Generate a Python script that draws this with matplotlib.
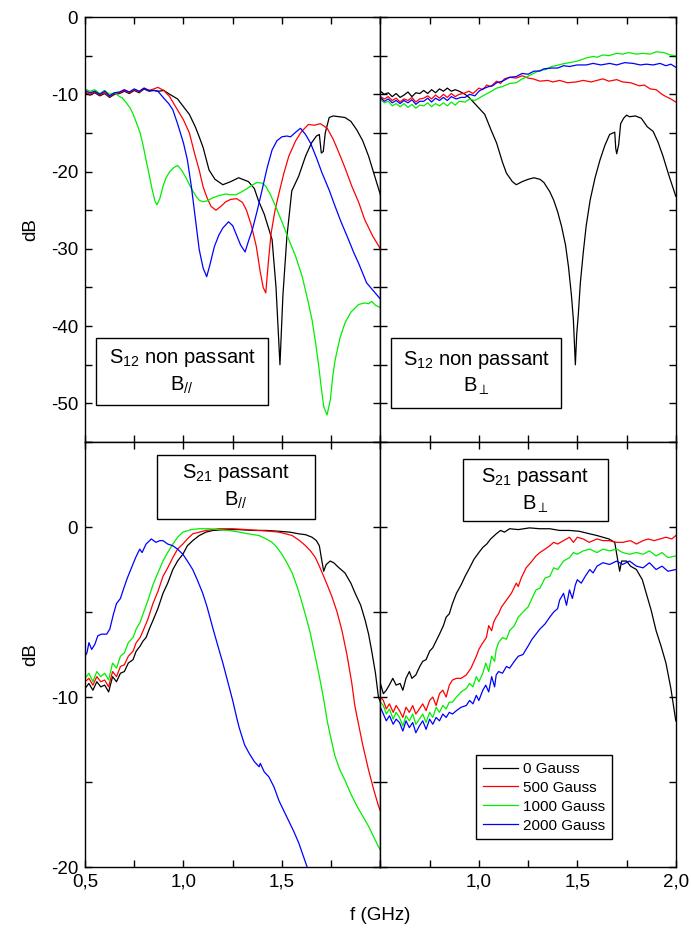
import matplotlib
matplotlib.use("Agg")
import matplotlib.pyplot as plt
from matplotlib.patches import Rectangle
from matplotlib.ticker import MultipleLocator

plt.rcParams['font.family'] = ['Liberation Sans', 'DejaVu Sans']
plt.rcParams['mathtext.fontset'] = 'custom'
plt.rcParams['mathtext.rm'] = 'Liberation Sans'
plt.rcParams['mathtext.it'] = 'Liberation Sans:italic'
plt.rcParams['axes.unicode_minus'] = False

# S12 non passant, B parallel
s12_par_0 = [(0.5,-9.8),(0.525,-10.1),(0.55,-9.8),(0.575,-10.2),(0.6,-9.9),(0.625,-10.4),(0.65,-10.0),(0.675,-9.9),(0.7,-9.6),(0.725,-9.9),(0.75,-9.5),(0.775,-9.8),(0.8,-9.3),(0.825,-9.6),(0.85,-9.5),(0.875,-9.6),(0.9,-9.5),(0.93,-10.0),(0.97,-10.6),(1.0,-11.6),(1.03,-12.6),(1.06,-14.2),(1.08,-15.5),(1.1,-16.9),(1.13,-19.8),(1.16,-21.0),(1.2,-21.7),(1.24,-21.3),(1.28,-20.8),(1.33,-21.3),(1.36,-22.2),(1.38,-23.7),(1.41,-25.5),(1.45,-28.8),(1.47,-35.0),(1.49,-45.0),(1.505,-36.0),(1.525,-28.5),(1.55,-22.5),(1.585,-20.6),(1.62,-18.0),(1.65,-16.3),(1.675,-15.4),(1.69,-15.2),(1.70,-17.6),(1.71,-17.4),(1.72,-15.0),(1.74,-13.0),(1.76,-12.8),(1.79,-12.9),(1.82,-13.0),(1.85,-13.5),(1.88,-14.6),(1.91,-16.0),(1.94,-18.0),(1.97,-20.5),(2.0,-23.0)]
s12_par_500 = [(0.5,-9.7),(0.525,-10.0),(0.55,-9.7),(0.575,-10.1),(0.6,-9.8),(0.625,-10.3),(0.65,-9.9),(0.675,-9.8),(0.7,-9.5),(0.725,-9.8),(0.75,-9.4),(0.775,-9.7),(0.8,-9.2),(0.825,-9.5),(0.85,-9.3),(0.87,-9.1),(0.9,-9.5),(0.93,-10.3),(0.96,-11.6),(1.0,-13.3),(1.03,-15.0),(1.06,-18.0),(1.08,-19.8),(1.1,-22.0),(1.12,-23.4),(1.14,-24.5),(1.165,-25.0),(1.19,-24.5),(1.215,-23.9),(1.24,-23.6),(1.27,-23.5),(1.3,-24.0),(1.32,-25.0),(1.345,-27.0),(1.37,-29.7),(1.39,-33.0),(1.405,-35.0),(1.418,-35.7),(1.43,-32.0),(1.445,-28.0),(1.465,-25.0),(1.485,-22.8),(1.51,-20.2),(1.535,-18.0),(1.57,-16.0),(1.6,-14.8),(1.635,-13.9),(1.665,-14.0),(1.695,-13.8),(1.73,-14.4),(1.76,-15.8),(1.79,-17.6),(1.82,-19.5),(1.855,-21.9),(1.89,-24.0),(1.92,-26.2),(1.96,-28.3),(2.0,-30.0)]
s12_par_1000 = [(0.5,-9.3),(0.525,-9.6),(0.55,-9.4),(0.575,-9.9),(0.6,-9.5),(0.625,-10.0),(0.65,-9.8),(0.67,-10.2),(0.69,-10.5),(0.71,-11.1),(0.73,-11.8),(0.745,-12.6),(0.76,-13.6),(0.78,-15.0),(0.795,-16.6),(0.81,-18.5),(0.825,-20.3),(0.84,-22.2),(0.855,-23.8),(0.865,-24.3),(0.88,-23.5),(0.895,-22.0),(0.91,-20.9),(0.93,-20.0),(0.95,-19.5),(0.97,-19.2),(0.99,-19.8),(1.013,-20.8),(1.04,-22.2),(1.064,-23.2),(1.08,-23.7),(1.098,-23.9),(1.12,-23.8),(1.148,-23.4),(1.18,-23.1),(1.215,-22.9),(1.24,-23.0),(1.266,-23.0),(1.29,-22.7),(1.317,-22.3),(1.345,-21.8),(1.375,-21.4),(1.4,-21.5),(1.418,-21.9),(1.44,-22.9),(1.468,-24.5),(1.5,-26.5),(1.535,-28.8),(1.57,-31.0),(1.603,-33.6),(1.63,-36.5),(1.653,-39.2),(1.67,-42.0),(1.687,-45.2),(1.70,-48.0),(1.712,-50.4),(1.729,-51.5),(1.746,-49.5),(1.758,-46.5),(1.77,-44.4),(1.795,-41.5),(1.82,-39.6),(1.85,-38.2),(1.889,-37.2),(1.92,-37.0),(1.94,-37.1),(1.956,-36.8),(1.975,-37.3),(2.0,-37.6)]
s12_par_2000 = [(0.5,-9.5),(0.525,-9.8),(0.55,-9.6),(0.575,-10.0),(0.6,-9.6),(0.625,-10.2),(0.65,-9.8),(0.675,-9.7),(0.7,-9.4),(0.725,-9.7),(0.75,-9.3),(0.775,-9.6),(0.8,-9.2),(0.825,-9.5),(0.85,-9.5),(0.87,-9.6),(0.9,-10.5),(0.925,-11.2),(0.946,-12.0),(0.97,-13.8),(1.0,-16.3),(1.02,-18.5),(1.04,-21.9),(1.06,-26.0),(1.08,-30.1),(1.1,-32.5),(1.118,-33.6),(1.135,-32.0),(1.157,-29.7),(1.18,-28.2),(1.2,-27.3),(1.229,-26.5),(1.25,-27.0),(1.266,-28.0),(1.29,-29.5),(1.313,-30.4),(1.33,-29.0),(1.35,-27.5),(1.375,-25.0),(1.4,-22.3),(1.425,-19.5),(1.45,-17.2),(1.475,-16.0),(1.5,-15.5),(1.525,-15.4),(1.544,-15.5),(1.57,-14.9),(1.594,-14.4),(1.62,-15.2),(1.645,-16.3),(1.675,-18.2),(1.704,-20.2),(1.74,-22.4),(1.77,-24.5),(1.8,-26.5),(1.838,-28.8),(1.865,-30.5),(1.89,-31.9),(1.93,-34.4),(1.96,-35.3),(2.0,-36.5)]

# S12 non passant, B perpendicular
s12_perp_0 = [(0.5,-9.6),(0.52,-10.0),(0.54,-9.8),(0.56,-10.3),(0.58,-9.9),(0.6,-10.4),(0.62,-10.1),(0.64,-9.7),(0.66,-10.3),(0.68,-9.8),(0.7,-9.9),(0.72,-9.5),(0.74,-9.9),(0.76,-9.4),(0.78,-9.8),(0.8,-9.3),(0.82,-9.6),(0.84,-9.2),(0.86,-9.6),(0.88,-9.4),(0.9,-9.6),(0.93,-10.0),(0.95,-10.4),(0.99,-11.5),(1.03,-12.6),(1.06,-14.5),(1.09,-16.3),(1.12,-18.8),(1.14,-20.2),(1.17,-21.3),(1.19,-21.7),(1.22,-21.3),(1.25,-21.0),(1.28,-20.8),(1.31,-21.0),(1.33,-21.4),(1.36,-22.6),(1.38,-23.7),(1.40,-25.2),(1.42,-27.1),(1.44,-29.5),(1.455,-32.3),(1.47,-36.0),(1.48,-39.2),(1.49,-45.0),(1.497,-41.0),(1.505,-38.5),(1.515,-34.5),(1.53,-30.5),(1.545,-27.0),(1.565,-23.7),(1.59,-20.8),(1.615,-18.5),(1.64,-16.6),(1.664,-15.2),(1.69,-14.9),(1.695,-17.0),(1.70,-17.7),(1.71,-16.5),(1.72,-13.8),(1.735,-13.1),(1.75,-12.7),(1.765,-12.9),(1.795,-12.8),(1.825,-13.1),(1.855,-14.2),(1.885,-14.8),(1.91,-16.2),(1.935,-18.0),(1.965,-20.5),(2.0,-23.2)]
s12_perp_500 = [(0.5,-10.3),(0.52,-10.6),(0.54,-10.3),(0.56,-10.8),(0.58,-10.5),(0.6,-11.0),(0.62,-10.6),(0.64,-10.8),(0.66,-10.4),(0.68,-11.0),(0.7,-10.6),(0.72,-10.5),(0.74,-10.2),(0.76,-10.6),(0.78,-10.1),(0.8,-10.5),(0.82,-10.0),(0.84,-10.4),(0.86,-9.9),(0.88,-10.3),(0.9,-10.0),(0.92,-9.9),(0.95,-9.6),(0.97,-9.9),(1.0,-9.2),(1.02,-9.4),(1.04,-8.8),(1.06,-9.0),(1.09,-8.3),(1.11,-8.6),(1.13,-8.0),(1.156,-7.8),(1.19,-7.9),(1.22,-7.6),(1.25,-7.9),(1.275,-8.0),(1.31,-8.3),(1.35,-8.2),(1.375,-8.4),(1.41,-8.2),(1.45,-8.5),(1.495,-8.4),(1.53,-8.2),(1.57,-8.4),(1.6,-8.2),(1.63,-8.0),(1.66,-8.3),(1.7,-8.1),(1.73,-8.4),(1.77,-8.5),(1.815,-8.9),(1.84,-8.8),(1.87,-9.3),(1.9,-9.4),(1.93,-10.0),(1.95,-10.3),(1.975,-10.6),(2.0,-11.0)]
s12_perp_1000 = [(0.5,-10.6),(0.52,-11.1),(0.54,-10.9),(0.56,-11.5),(0.58,-11.2),(0.6,-11.6),(0.62,-11.2),(0.64,-11.7),(0.66,-11.3),(0.68,-11.8),(0.7,-11.4),(0.72,-11.5),(0.74,-11.1),(0.76,-11.6),(0.78,-11.2),(0.8,-11.5),(0.82,-11.1),(0.84,-11.5),(0.86,-11.0),(0.88,-11.4),(0.9,-10.9),(0.93,-11.0),(0.953,-10.6),(0.98,-10.8),(1.0,-10.5),(1.02,-10.2),(1.05,-9.8),(1.07,-9.5),(1.09,-9.2),(1.12,-9.0),(1.156,-8.6),(1.19,-8.5),(1.22,-8.0),(1.24,-7.8),(1.27,-7.4),(1.307,-6.9),(1.34,-6.8),(1.37,-6.4),(1.39,-6.3),(1.42,-6.1),(1.46,-5.9),(1.5,-5.7),(1.545,-5.3),(1.58,-5.1),(1.6,-5.2),(1.63,-4.9),(1.66,-5.0),(1.7,-4.7),(1.73,-4.8),(1.76,-4.6),(1.8,-4.8),(1.834,-4.7),(1.87,-4.8),(1.9,-4.5),(1.94,-4.6),(1.97,-4.9),(2.0,-5.0)]
s12_perp_2000 = [(0.5,-10.4),(0.52,-10.9),(0.54,-10.6),(0.56,-11.1),(0.58,-10.8),(0.6,-11.2),(0.62,-10.8),(0.64,-11.1),(0.66,-10.7),(0.68,-11.3),(0.7,-10.9),(0.72,-10.9),(0.74,-10.5),(0.76,-11.0),(0.78,-10.5),(0.8,-10.8),(0.82,-10.4),(0.84,-10.8),(0.86,-10.3),(0.885,-10.6),(0.91,-10.4),(0.93,-10.4),(0.953,-10.0),(0.98,-10.2),(1.0,-9.6),(1.02,-9.3),(1.05,-9.0),(1.07,-8.9),(1.09,-8.5),(1.12,-8.3),(1.156,-7.8),(1.19,-7.7),(1.22,-7.3),(1.25,-7.4),(1.28,-7.0),(1.31,-7.0),(1.33,-6.7),(1.37,-6.6),(1.4,-6.6),(1.43,-6.3),(1.46,-6.4),(1.5,-6.2),(1.545,-6.2),(1.58,-6.0),(1.62,-6.2),(1.664,-6.0),(1.7,-6.2),(1.74,-5.9),(1.783,-6.0),(1.82,-6.2),(1.85,-6.1),(1.885,-6.2),(1.92,-6.0),(1.95,-6.3),(1.975,-6.1),(2.0,-6.5)]

# S21 passant, B parallel
s21_par_0 = [(0.5,-9.5),(0.52,-9.2),(0.54,-9.6),(0.56,-9.1),(0.58,-9.4),(0.6,-9.3),(0.62,-9.7),(0.64,-8.8),(0.66,-9.1),(0.68,-8.6),(0.7,-8.5),(0.72,-8.0),(0.744,-7.8),(0.76,-7.3),(0.78,-7.0),(0.795,-6.7),(0.81,-6.5),(0.83,-5.9),(0.845,-5.5),(0.87,-4.8),(0.896,-3.9),(0.92,-3.3),(0.946,-2.5),(0.97,-2.0),(0.997,-1.6),(1.02,-1.1),(1.047,-0.8),(1.08,-0.5),(1.114,-0.3),(1.15,-0.2),(1.215,-0.15),(1.28,-0.15),(1.35,-0.2),(1.42,-0.2),(1.485,-0.25),(1.54,-0.3),(1.586,-0.4),(1.62,-0.45),(1.653,-0.6),(1.675,-0.8),(1.69,-1.1),(1.70,-1.8),(1.712,-2.6),(1.725,-2.2),(1.745,-2.0),(1.763,-2.1),(1.79,-2.4),(1.82,-2.7),(1.85,-3.3),(1.872,-3.9),(1.9,-4.6),(1.923,-5.5),(1.94,-6.3),(1.956,-7.3),(1.975,-8.6),(1.99,-10.0),(2.0,-10.3)]
s21_par_500 = [(0.5,-9.1),(0.52,-8.9),(0.54,-9.3),(0.56,-8.8),(0.58,-9.1),(0.6,-9.0),(0.62,-9.4),(0.64,-8.5),(0.66,-8.8),(0.68,-8.2),(0.7,-8.1),(0.72,-7.6),(0.744,-7.3),(0.76,-6.8),(0.78,-6.5),(0.795,-6.1),(0.82,-5.4),(0.845,-4.5),(0.87,-3.8),(0.896,-2.9),(0.92,-2.4),(0.946,-1.8),(0.97,-1.3),(0.997,-1.0),(1.02,-0.7),(1.047,-0.4),(1.08,-0.3),(1.114,-0.2),(1.18,-0.1),(1.25,-0.1),(1.32,-0.15),(1.384,-0.2),(1.44,-0.25),(1.485,-0.3),(1.52,-0.4),(1.552,-0.5),(1.59,-0.8),(1.62,-1.1),(1.645,-1.4),(1.67,-1.8),(1.69,-2.3),(1.712,-2.9),(1.73,-3.4),(1.754,-4.1),(1.78,-5.0),(1.805,-6.1),(1.83,-7.5),(1.855,-9.2),(1.87,-10.5),(1.889,-11.6),(1.91,-12.8),(1.94,-14.3),(1.965,-15.4),(1.99,-16.4),(2.0,-16.7)]
s21_par_1000 = [(0.5,-8.9),(0.52,-8.6),(0.54,-9.1),(0.56,-8.5),(0.58,-8.8),(0.6,-8.6),(0.62,-9.0),(0.64,-8.0),(0.66,-8.3),(0.68,-7.6),(0.7,-7.4),(0.72,-6.8),(0.744,-6.5),(0.76,-6.0),(0.78,-5.6),(0.795,-5.1),(0.82,-4.3),(0.845,-3.4),(0.87,-2.7),(0.896,-2.0),(0.92,-1.5),(0.946,-1.0),(0.97,-0.6),(0.997,-0.3),(1.04,-0.15),(1.08,-0.1),(1.13,-0.1),(1.18,-0.15),(1.23,-0.2),(1.283,-0.3),(1.33,-0.4),(1.384,-0.5),(1.42,-0.7),(1.45,-0.9),(1.475,-1.2),(1.5,-1.6),(1.525,-2.1),(1.552,-2.7),(1.58,-3.6),(1.603,-4.5),(1.625,-5.4),(1.645,-6.3),(1.665,-7.4),(1.687,-8.6),(1.71,-10.0),(1.73,-11.4),(1.75,-12.5),(1.77,-13.5),(1.795,-14.3),(1.82,-14.9),(1.85,-15.7),(1.88,-16.4),(1.91,-17.0),(1.94,-17.6),(1.965,-18.2),(1.99,-18.8),(2.0,-19.0)]
s21_par_2000 = [(0.5,-7.6),(0.51,-7.4),(0.52,-6.8),(0.534,-7.2),(0.55,-6.9),(0.565,-6.4),(0.584,-6.3),(0.61,-6.3),(0.626,-6.0),(0.645,-5.1),(0.66,-4.5),(0.68,-4.2),(0.694,-3.7),(0.715,-3.0),(0.736,-2.4),(0.757,-1.8),(0.778,-1.3),(0.79,-1.5),(0.81,-1.0),(0.837,-0.7),(0.86,-0.9),(0.88,-0.8),(0.896,-0.8),(0.92,-1.0),(0.946,-1.1),(0.97,-1.3),(0.997,-1.6),(1.02,-2.0),(1.047,-2.5),(1.07,-3.1),(1.098,-3.9),(1.12,-4.7),(1.148,-5.9),(1.175,-7.0),(1.2,-8.0),(1.225,-9.1),(1.25,-10.2),(1.27,-11.2),(1.283,-11.8),(1.31,-12.8),(1.333,-13.3),(1.36,-13.8),(1.384,-14.1),(1.39,-13.9),(1.41,-14.4),(1.434,-14.7),(1.46,-15.3),(1.485,-16.1),(1.51,-16.7),(1.535,-17.3),(1.56,-17.9),(1.586,-18.6),(1.61,-19.4),(1.628,-20.0),(1.64,-20.5)]

# S21 passant, B perpendicular
s21_perp_0 = [(0.5,-9.2),(0.515,-9.8),(0.53,-9.6),(0.545,-9.3),(0.563,-8.9),(0.58,-9.3),(0.6,-9.2),(0.614,-9.6),(0.63,-8.9),(0.647,-8.5),(0.66,-8.9),(0.68,-8.7),(0.7,-8.2),(0.715,-7.9),(0.732,-7.8),(0.75,-7.3),(0.766,-7.1),(0.783,-6.7),(0.8,-6.3),(0.82,-5.8),(0.834,-5.3),(0.85,-5.1),(0.866,-4.5),(0.886,-3.9),(0.91,-3.4),(0.93,-2.9),(0.953,-2.4),(0.975,-1.9),(1.0,-1.5),(1.02,-1.2),(1.04,-1.0),(1.06,-0.7),(1.088,-0.4),(1.11,-0.2),(1.13,-0.3),(1.156,-0.1),(1.2,-0.15),(1.257,-0.05),(1.31,-0.1),(1.36,-0.1),(1.41,-0.2),(1.46,-0.2),(1.51,-0.25),(1.563,-0.4),(1.6,-0.5),(1.63,-0.6),(1.66,-0.7),(1.69,-0.9),(1.70,-1.6),(1.715,-2.6),(1.725,-2.0),(1.75,-2.0),(1.77,-2.3),(1.8,-2.5),(1.83,-3.1),(1.85,-3.9),(1.875,-4.9),(1.9,-6.1),(1.925,-7.0),(1.95,-8.0),(1.975,-9.5),(2.0,-11.4)]
s21_perp_500 = [(0.5,-10.0),(0.515,-10.2),(0.53,-10.7),(0.546,-10.4),(0.565,-10.9),(0.58,-10.5),(0.597,-10.8),(0.614,-11.2),(0.63,-10.6),(0.647,-10.9),(0.664,-10.5),(0.68,-11.0),(0.698,-10.7),(0.715,-10.4),(0.732,-10.8),(0.75,-10.2),(0.766,-10.0),(0.783,-10.5),(0.8,-9.8),(0.817,-9.6),(0.834,-10.0),(0.85,-9.3),(0.866,-9.0),(0.886,-8.9),(0.91,-8.9),(0.936,-8.7),(0.96,-8.3),(0.987,-7.6),(1.0,-7.2),(1.015,-6.9),(1.038,-6.5),(1.05,-5.8),(1.065,-6.1),(1.075,-5.6),(1.088,-5.3),(1.1,-5.1),(1.115,-4.7),(1.14,-4.3),(1.165,-3.9),(1.19,-3.3),(1.2,-3.5),(1.215,-3.0),(1.24,-2.4),(1.255,-2.2),(1.27,-2.0),(1.29,-1.7),(1.31,-1.5),(1.336,-1.3),(1.36,-1.1),(1.38,-0.9),(1.4,-1.0),(1.43,-0.8),(1.46,-0.6),(1.48,-0.9),(1.5,-0.6),(1.53,-0.7),(1.56,-0.9),(1.6,-0.7),(1.63,-0.8),(1.66,-0.8),(1.7,-0.9),(1.73,-0.9),(1.77,-0.8),(1.8,-1.0),(1.834,-0.8),(1.86,-0.7),(1.89,-0.8),(1.92,-0.7),(1.95,-0.6),(1.98,-0.7),(2.0,-0.5)]
s21_perp_1000 = [(0.5,-10.3),(0.515,-10.5),(0.53,-11.0),(0.546,-10.7),(0.565,-11.3),(0.58,-10.9),(0.597,-11.2),(0.614,-11.7),(0.63,-11.1),(0.647,-11.4),(0.664,-11.0),(0.68,-11.6),(0.698,-11.3),(0.715,-11.0),(0.732,-11.5),(0.75,-10.9),(0.766,-11.2),(0.783,-10.6),(0.8,-10.9),(0.817,-10.5),(0.834,-10.7),(0.85,-10.3),(0.866,-10.3),(0.886,-10.0),(0.91,-9.7),(0.936,-9.5),(0.953,-9.2),(0.97,-9.4),(0.987,-8.8),(1.0,-9.1),(1.02,-8.6),(1.035,-8.0),(1.05,-8.5),(1.065,-7.6),(1.08,-7.9),(1.088,-7.2),(1.1,-6.8),(1.12,-6.5),(1.14,-6.6),(1.156,-6.1),(1.18,-5.8),(1.2,-5.3),(1.224,-5.0),(1.25,-4.7),(1.27,-4.2),(1.29,-3.7),(1.31,-3.6),(1.336,-3.0),(1.36,-2.9),(1.38,-2.4),(1.4,-2.5),(1.43,-2.0),(1.46,-1.8),(1.48,-1.5),(1.5,-1.6),(1.53,-1.4),(1.563,-1.3),(1.6,-1.5),(1.63,-1.3),(1.664,-1.4),(1.7,-1.3),(1.73,-1.5),(1.765,-1.6),(1.8,-1.5),(1.834,-1.6),(1.866,-1.4),(1.9,-1.7),(1.93,-1.5),(1.96,-1.8),(2.0,-1.7)]
s21_perp_2000 = [(0.5,-10.6),(0.515,-11.0),(0.53,-11.4),(0.546,-11.1),(0.565,-11.6),(0.58,-11.3),(0.597,-11.5),(0.614,-12.0),(0.63,-11.4),(0.647,-11.8),(0.664,-11.5),(0.68,-12.1),(0.698,-11.7),(0.715,-11.4),(0.732,-11.9),(0.75,-11.3),(0.766,-11.6),(0.783,-11.2),(0.8,-11.4),(0.817,-11.0),(0.834,-11.2),(0.85,-10.9),(0.866,-11.0),(0.886,-10.8),(0.91,-10.6),(0.936,-10.5),(0.953,-10.2),(0.97,-10.4),(0.987,-9.9),(1.0,-10.2),(1.02,-9.6),(1.035,-9.3),(1.05,-9.7),(1.065,-8.8),(1.08,-9.4),(1.088,-8.7),(1.1,-8.5),(1.12,-8.6),(1.14,-8.2),(1.156,-8.3),(1.18,-7.9),(1.2,-7.6),(1.224,-7.5),(1.25,-7.0),(1.27,-6.6),(1.29,-6.3),(1.31,-6.0),(1.336,-5.7),(1.36,-5.3),(1.38,-5.0),(1.4,-4.8),(1.41,-4.3),(1.43,-3.9),(1.445,-4.6),(1.46,-3.7),(1.475,-4.2),(1.49,-3.4),(1.5,-3.1),(1.52,-3.3),(1.54,-2.9),(1.563,-2.5),(1.58,-2.7),(1.6,-2.3),(1.63,-2.1),(1.664,-2.2),(1.7,-2.0),(1.73,-2.2),(1.765,-2.0),(1.8,-2.3),(1.834,-2.4),(1.866,-2.1),(1.9,-2.5),(1.93,-2.3),(1.96,-2.6),(2.0,-2.5)]

gauss_labels = ['0 Gauss', '500 Gauss', '1000 Gauss', '2000 Gauss']
colors = ['black', '#ff0000', '#00ee00', '#0000ff']
panel_titles = ['S$_{12}$ non passant\nB$_{//}$', 'S$_{12}$ non passant\nB$_{\\perp}$',
                'S$_{21}$ passant\nB$_{//}$', 'S$_{21}$ passant\nB$_{\\perp}$']
panels = [[s12_par_0, s12_par_500, s12_par_1000, s12_par_2000],
          [s12_perp_0, s12_perp_500, s12_perp_1000, s12_perp_2000],
          [s21_par_0, s21_par_500, s21_par_1000, s21_par_2000],
          [s21_perp_0, s21_perp_500, s21_perp_1000, s21_perp_2000]]
# label boxes in axes fractions: x0, y0, width, height
title_boxes = [(0.037, 0.087, 0.584, 0.158), (0.037, 0.080, 0.576, 0.165),
               (0.243, 0.819, 0.537, 0.151), (0.278, 0.814, 0.492, 0.146)]

fig = plt.figure(figsize=(6.91, 9.31), dpi=100)
gs = fig.add_gridspec(2, 2, left=0.123, right=0.978, top=0.9817, bottom=0.0687,
                      hspace=0, wspace=0)
axs = [fig.add_subplot(gs[i // 2, i % 2]) for i in range(4)]

for k, ax in enumerate(axs):
    for curve, c, lab in zip(panels[k], colors, gauss_labels):
        f = [p[0] for p in curve]
        db = [p[1] for p in curve]
        ax.plot(f, db, color=c, lw=0.9, label=lab)
    ax.set_xlim(0.5, 2.0)
    if k < 2:
        ax.set_ylim(-55, 0)
    else:
        ax.set_ylim(-20, 5)
    ax.yaxis.set_major_locator(MultipleLocator(10))
    ax.yaxis.set_minor_locator(MultipleLocator(5))
    ax.set_xticks([0.5, 1.0, 1.5, 2.0])
    ax.set_xticks([0.75, 1.25, 1.75], minor=True)
    ax.tick_params(which='both', direction='in', top=True, right=True,
                   length=5, width=1, labelsize=13.5, pad=5)
    for s in ax.spines.values():
        s.set_linewidth(1.0)

    x0, y0, w, h = title_boxes[k]
    ax.add_patch(Rectangle((x0, y0), w, h, transform=ax.transAxes, fc='white',
                           ec='black', lw=1.0, zorder=5))
    ax.text(x0 + w / 2, y0 + h / 2, panel_titles[k], transform=ax.transAxes,
            ha='center', va='center', fontsize=14.5, multialignment='center',
            linespacing=1.35, zorder=6)

    if k % 2 == 1:
        ax.tick_params(labelleft=False)
    else:
        ax.set_ylabel('dB', fontsize=13.5, labelpad=8)
    if k < 2:
        ax.tick_params(labelbottom=False)

axs[2].set_xticklabels(['0,5', '1,0', '1,5', ''])
axs[3].set_xticklabels(['', '1,0', '1,5', '2,0'])

leg = axs[3].legend(loc='upper left', bbox_to_anchor=(0.325, 0.2635), borderaxespad=0,
                    fontsize=11, fancybox=False, edgecolor='black', framealpha=1,
                    handlelength=2.3, borderpad=0.45, labelspacing=0.32, handletextpad=0.3)
leg.get_frame().set_linewidth(1.0)

fig.text(380 / 691, 1 - 915 / 931, 'f (GHz)', ha='center', va='center', fontsize=13.5)

fig.savefig('out.png', dpi=100)
